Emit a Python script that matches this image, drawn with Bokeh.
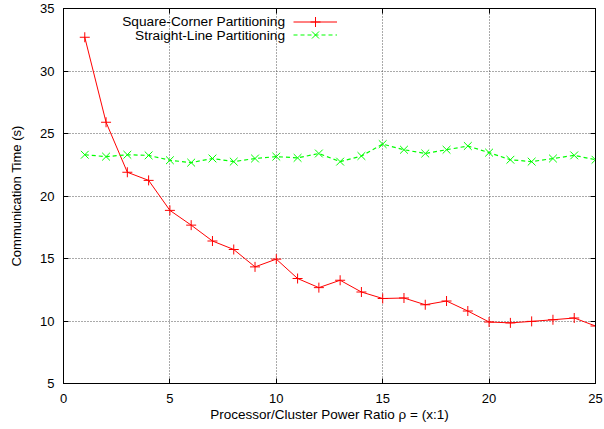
from bokeh.plotting import figure
from bokeh.models import (Range1d, LinearAxis, Label, Legend, LegendItem,
                          FixedTicker)
from bokeh.embed import file_html
from bokeh.resources import INLINE

ratio = list(range(1, 26))
square_corner = [32.7, 25.9, 21.9, 21.25, 18.85, 17.67, 16.4, 15.72, 14.33, 14.95,
                 13.4, 12.67, 13.26, 12.32, 11.8, 11.84, 11.3, 11.6, 10.8, 9.92,
                 9.85, 9.97, 10.1, 10.24, 9.6]
straight_line = [23.3, 23.15, 23.3, 23.25, 22.86, 22.67, 23.0, 22.75, 23.0, 23.15,
                 23.05, 23.4, 22.75, 23.2, 24.15, 23.7, 23.4, 23.7, 24.0, 23.47,
                 22.9, 22.75, 23.0, 23.25, 22.9]
x_ticks = [0, 5, 10, 15, 20, 25]
y_ticks = [5, 10, 15, 20, 25, 30, 35]
series_names = ["Square-Corner Partitioning", "Straight-Line Partitioning"]

FONT = "Liberation Sans"

p = figure(width=604, height=429, output_backend="svg", toolbar_location=None,
           x_range=Range1d(0, 25), y_range=Range1d(5, 35),
           min_border_left=63, min_border_right=9, min_border_top=8,
           min_border_bottom=46)
p.outline_line_color = "black"
p.outline_line_width = 1

for ax in (p.xaxis[0], p.yaxis[0]):
    ax.major_tick_in = 5
    ax.major_tick_out = 0
    ax.minor_tick_in = 0
    ax.minor_tick_out = 0
    ax.axis_line_color = "black"
    ax.major_tick_line_color = "black"
    ax.major_label_text_font = FONT
    ax.major_label_text_font_size = "13px"
    ax.major_label_text_color = "black"
    ax.axis_label_text_font = FONT
    ax.axis_label_text_font_style = "normal"
    ax.axis_label_text_color = "black"

p.xaxis.ticker = FixedTicker(ticks=x_ticks)
p.yaxis.ticker = FixedTicker(ticks=y_ticks)
p.xaxis.axis_label = "Processor/Cluster Power Ratio \u03c1 = (x:1)"
p.yaxis.axis_label = "Communication Time (s)"
p.xaxis.axis_label_text_font_size = "13.5px"
p.yaxis.axis_label_text_font_size = "13px"
p.xaxis.major_label_standoff = 10
p.yaxis.major_label_standoff = 9
p.xaxis.axis_label_standoff = 1
p.yaxis.axis_label_standoff = 13

# mirror ticks on the right and top edges
for loc, ticks in (("right", y_ticks), ("above", x_ticks)):
    ax = LinearAxis(ticker=FixedTicker(ticks=ticks))
    ax.major_tick_in = 5
    ax.major_tick_out = 0
    ax.minor_tick_in = 0
    ax.minor_tick_out = 0
    ax.major_label_text_font_size = "1px"
    ax.major_label_text_color = None
    ax.major_label_standoff = 0
    ax.axis_line_color = "black"
    p.add_layout(ax, loc)

p.xgrid.ticker = FixedTicker(ticks=x_ticks)
p.ygrid.ticker = FixedTicker(ticks=y_ticks)
for g in (p.xgrid[0], p.ygrid[0]):
    g.grid_line_color = "#555555"
    g.grid_line_dash = "1 2"
    g.grid_line_width = 1

r1 = p.line(ratio, square_corner, line_color="#ff0000", line_width=1)
m1 = p.scatter(ratio, square_corner, marker="cross", size=10, line_color="#ff0000",
               line_width=1)
r2 = p.line(ratio, straight_line, line_color="#00ff00", line_width=1.2, line_dash="4 3")
m2 = p.scatter(ratio, straight_line, marker="x", size=11, line_color="#00ff00",
               line_width=1)

# one legend per row (glyph height chosen so legend markers match data markers)
row_centers = [12.2, 25.8]  # px from frame top
frame_h = 374
for (rend, mark), yc in zip(((r1, m1), (r2, m2)), row_centers):
    lg = Legend(items=[LegendItem(label=" ", renderers=[rend, mark])],
                location=(229.5, frame_h - yc - 12.5), glyph_width=44, glyph_height=25,
                spacing=0, padding=0, margin=0, label_standoff=0, label_width=0,
                label_height=25, label_text_font_size="1px", label_text_color=None,
                border_line_color=None, background_fill_alpha=0)
    p.add_layout(lg)

for name, yc in zip(series_names, row_centers):
    p.add_layout(Label(x=221.5, y=frame_h - yc, x_units="screen", y_units="screen",
                       text=name, text_align="right", text_baseline="middle",
                       text_font=FONT, text_font_size="13.7px", text_color="black"))

open("out.html", "w").write(file_html(p, INLINE))
